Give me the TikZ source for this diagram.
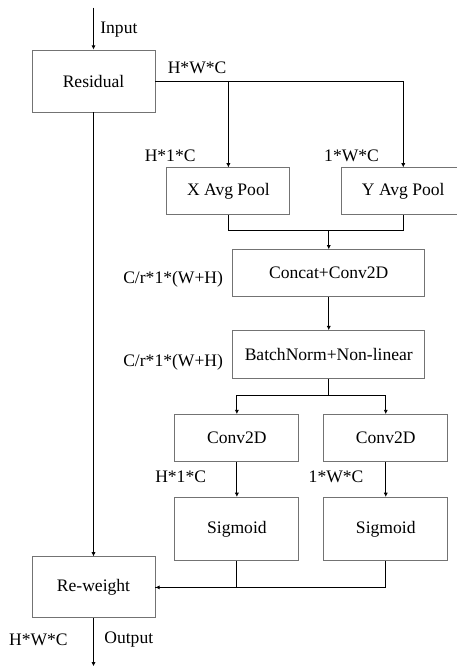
\documentclass[tikz,border=0pt]{standalone}
\usepackage{fontspec}
\setmainfont{Liberation Serif}
\newfontfamily\diagfont{Liberation Serif}
\usepackage{tikz}
\usetikzlibrary{calc, positioning, arrows.meta}
\tikzset{
    block/.style={rectangle, draw=black!55, line width=0.5pt, fill=white, align=center, inner sep=0pt, minimum width=2.46cm, minimum height=0.94cm, font=\diagfont\fontsize{10}{12}\selectfont},
    wideblock/.style={block, minimum width=3.84cm},
    arrow/.style={-{Latex[length=2.4pt, width=2.4pt]}, line width=0.5pt},
    line/.style={line width=0.5pt},
    dim/.style={inner sep=0pt, font=\diagfont\fontsize{10}{12}\selectfont}
}
\begin{document}
\begin{tikzpicture}[node distance=0.7cm]
    \useasboundingbox (0,0) rectangle (9.12,-13.32);

    \node[block, minimum height=1.24cm] (Residual) at (1.87,-1.62) {Residual};
    \node[block, below right=1.1cm and 0.22cm of Residual] (XPool) {X Avg Pool};
    \node[block, right=1.02cm of XPool] (YPool) {Y Avg Pool};

    \node[wideblock, below right=0.68cm and -1.16cm of XPool] (Concat) {Concat+Conv2D};
    \node[wideblock, below=0.66cm of Concat, minimum height=0.96cm] (BatchNorm) {BatchNorm+Non-linear};

    \node[block, minimum width=2.48cm, below left=0.7cm and -1.34cm of BatchNorm] (ConvL) {Conv2D};
    \node[block, minimum width=2.48cm, right=0.48cm of ConvL] (ConvR) {Conv2D};
    \node[block, minimum width=2.48cm, minimum height=1.26cm, below=0.7cm of ConvL] (SigL) {Sigmoid};
    \node[block, minimum width=2.48cm, minimum height=1.26cm, below=0.7cm of ConvR] (SigR) {Sigmoid};

    \node[block, minimum height=1.22cm, below=8.88cm of Residual] (Reweight) {Re-weight};

    \coordinate (In) at ($(Residual.north)+(0,0.84)$);
    \coordinate (Out) at ($(Reweight.south)+(0,-0.96)$);
    \coordinate (Merge) at ($(XPool.south)+(0,-0.3)$);
    \coordinate (Split) at ($(BatchNorm.south)+(0,-0.32)$);

    % sizes
    \node[dim, anchor=west] (LabIn) at ($(Residual.north)+(0.13,0.4)$) {Input};
    \node[dim, anchor=west] (LabHWC) at ($(Residual.east)+(0.24,0.26)$) {H*W*C};
    \node[dim, anchor=east] (LabXPool) at ($(XPool.north)+(-0.65,0.24)$) {H*1*C};
    \node[dim, anchor=east] (LabYPool) at ($(YPool.north)+(-0.48,0.24)$) {1*W*C};
    \node[dim, anchor=east] (LabConcat) at ($(Concat.west)+(-0.18,-0.13)$) {C/r*1*(W+H)};
    \node[dim, anchor=east] (LabBN) at ($(BatchNorm.west)+(-0.18,-0.16)$) {C/r*1*(W+H)};
    \node[dim, anchor=east] (LabConvL) at ($(ConvL.south)+(-0.61,-0.3)$) {H*1*C};
    \node[dim, anchor=east] (LabConvR) at ($(ConvR.south)+(-0.44,-0.3)$) {1*W*C};
    \node[dim, anchor=east] (LabOutDim) at ($(Reweight.south)+(-0.51,-0.42)$) {H*W*C};
    \node[dim, anchor=west] (LabOut) at ($(Reweight.south)+(0.21,-0.42)$) {Output};

    \draw[arrow] (In) -- (Residual);
    \draw[arrow] (Residual.east) -| (YPool.north);
    \draw[arrow] (Residual.east -| XPool.north) -- (XPool.north);
    \draw[line] (XPool.south) -- (Merge) -| (YPool.south);
    \draw[arrow] (Merge -| Concat.north) -- (Concat.north);
    \draw[arrow] (Concat) -- (BatchNorm);
    \draw[line] (BatchNorm.south) -- (Split);
    \draw[arrow] (Split) -| (ConvL.north);
    \draw[arrow] (Split) -| (ConvR.north);
    \draw[arrow] (ConvL) -- (SigL);
    \draw[arrow] (ConvR) -- (SigR);
    \draw[arrow] (Residual) -- (Reweight);
    \draw[line] (SigL.south) |- (Reweight.east);
    \draw[arrow] (SigR.south) |- (Reweight.east);
    \draw[arrow] (Reweight) -- (Out);
\end{tikzpicture}
\end{document}
